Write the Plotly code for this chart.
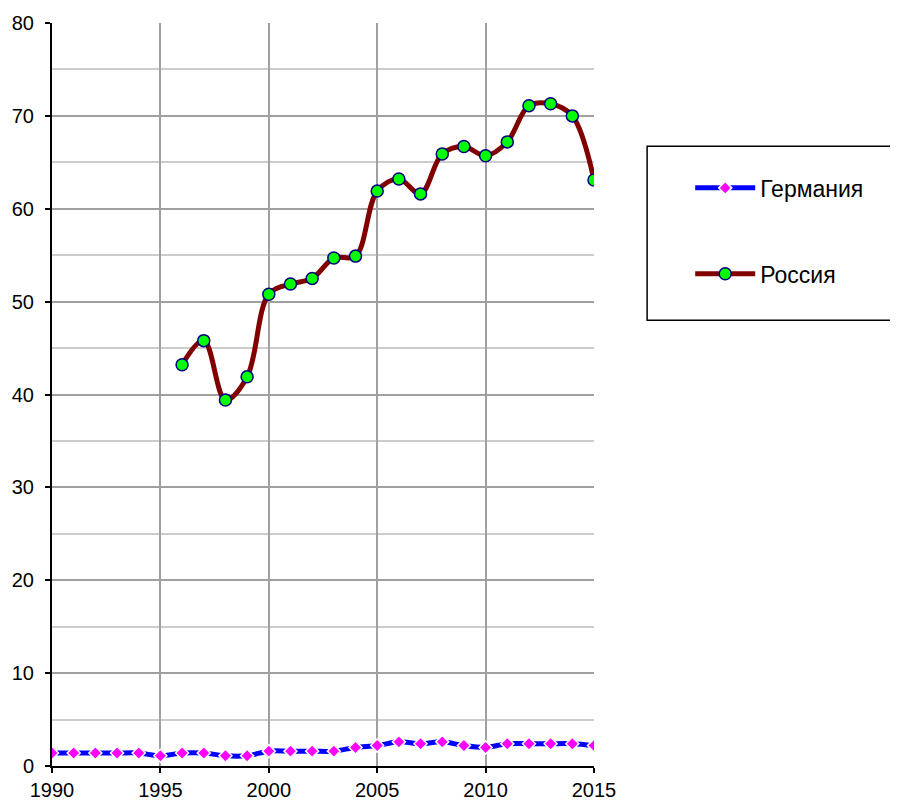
import plotly.graph_objects as go

years = list(range(1990, 2016))
germany = [1.4, 1.4, 1.4, 1.4, 1.4, 1.1, 1.4, 1.4, 1.1, 1.1,
           1.6, 1.6, 1.6, 1.6, 2.0, 2.2, 2.6, 2.4, 2.6, 2.2,
           2.0, 2.4, 2.4, 2.4, 2.4, 2.2]
russia_years = list(range(1996, 2016))
russia = [43.2, 45.8, 39.4, 41.9, 50.8, 51.9, 52.5, 54.7, 54.9, 61.9,
          63.2, 61.6, 65.9, 66.7, 65.7, 67.2, 71.1, 71.3, 70.0, 63.1]

FONT = "Liberation Sans, Arial, sans-serif"

fig = go.Figure()

fig.add_trace(go.Scatter(
    x=years, y=germany, name="Германия", legendgroup="g",
    mode="lines+markers",
    line=dict(color="#0000ff", width=5, shape="spline", smoothing=1.0),
    marker=dict(symbol="diamond", size=10, color="#ff00ff",
                line=dict(color="white", width=1.5)),
))
fig.add_trace(go.Scatter(
    x=russia_years, y=russia, name="Россия", legendgroup="r",
    mode="lines+markers",
    line=dict(color="#800000", width=5, shape="spline", smoothing=1.0),
    marker=dict(symbol="circle", size=12, color="#00ff00",
                line=dict(color="#000080", width=1.5)),
))

# legend frame (runs off the right edge like the original)
fig.add_shape(type="rect", xref="paper", yref="paper",
              x0=1.098, x1=1.7, y0=0.600, y1=0.834,
              line=dict(color="black", width=1.5), fillcolor="white", layer="below")

# the page adds an 8px body margin, so margins are shifted to compensate
fig.update_layout(
    width=898, height=800,
    paper_bgcolor="white", plot_bgcolor="white",
    margin=dict(l=44, r=312, t=15, b=42),
    font=dict(family=FONT, size=20, color="black"),
    showlegend=True,
    legend=dict(x=1.1775, xanchor="left", y=0.807, yanchor="top",
                bgcolor="rgba(0,0,0,0)", tracegroupgap=53, itemwidth=60,
                font=dict(size=23, family=FONT)),
    xaxis=dict(
        range=[1990, 2015], tickmode="linear", tick0=1990, dtick=5,
        showgrid=True, gridcolor="#a0a0a0", gridwidth=1.5,
        showline=True, linecolor="black", linewidth=2,
        ticks="outside", ticklen=5, tickcolor="black", tickwidth=2,
        ticklabelstandoff=0, tickfont=dict(size=20),
        zeroline=False, mirror=False, automargin=False,
    ),
    yaxis=dict(
        range=[0, 80], tickmode="linear", tick0=0, dtick=10,
        showgrid=True, gridcolor="#a0a0a0", gridwidth=1.5,
        minor=dict(dtick=5, showgrid=True, gridcolor="#cccccc", gridwidth=1.5),
        showline=True, linecolor="black", linewidth=2,
        ticks="outside", ticklen=5, tickcolor="black", tickwidth=2,
        ticklabelstandoff=7, tickfont=dict(size=20),
        zeroline=False, automargin=False,
    ),
)

fig.write_html("out.html")
